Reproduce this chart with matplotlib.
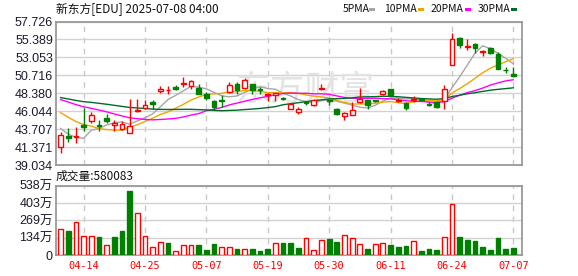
import matplotlib
matplotlib.use('Agg')
import matplotlib.pyplot as plt
from matplotlib.patches import Rectangle
import numpy as np
import pandas as pd

# ---------------- data ----------------
dates = ['04-09','04-10','04-11','04-14','04-15','04-16','04-17','04-21','04-22','04-23',
         '04-24','04-25','04-28','04-29','04-30','05-01','05-02','05-05','05-06','05-07',
         '05-08','05-09','05-12','05-13','05-14','05-15','05-16','05-19','05-20','05-21',
         '05-22','05-23','05-27','05-28','05-29','05-30','06-02','06-03','06-04','06-05',
         '06-06','06-09','06-10','06-11','06-12','06-13','06-16','06-17','06-18','06-20',
         '06-23','06-24','06-25','06-26','06-27','06-30','07-01','07-02','07-03','07-07']
tick_dates = ['04-14','04-25','05-07','05-19','05-30','06-11','06-24','07-07']

opens = [41.41,42.80,42.72,44.23,44.74,44.23,45.10,44.23,43.67,43.23,
         46.04,46.52,47.25,48.67,48.77,49.20,49.55,49.29,49.07,48.25,
         47.38,47.56,48.55,49.55,49.12,49.55,48.95,48.12,48.10,47.70,
         46.39,45.95,47.21,46.82,48.99,47.50,46.39,45.43,45.61,47.25,
         47.47,47.50,48.34,48.90,47.38,47.12,47.47,47.60,47.00,47.25,
         47.34,52.10,55.61,54.45,54.83,53.80,54.31,53.53,51.45,50.85]
highs = [43.36,43.80,43.93,46.43,45.95,44.88,45.74,44.88,44.74,47.69,
         47.69,47.47,47.56,49.29,49.29,49.42,50.50,50.07,49.55,48.55,
         47.47,48.12,49.85,49.85,50.33,49.64,49.20,48.40,48.40,47.90,
         47.10,46.60,47.40,47.60,49.64,47.69,46.43,45.90,47.25,49.12,
         47.50,47.56,48.86,48.99,47.82,47.25,47.99,47.69,47.25,47.34,
         49.42,56.20,55.70,55.48,54.87,54.05,54.35,53.74,51.79,51.79]
lows = [40.63,42.06,41.93,43.50,44.52,43.49,44.45,43.49,43.58,43.15,
        45.95,46.39,46.39,48.42,48.34,48.77,49.20,48.99,48.25,47.56,
        46.26,46.60,48.47,48.34,48.99,48.34,48.30,47.38,47.38,47.47,
        46.30,45.74,46.90,46.75,48.86,46.82,45.50,44.88,45.52,47.12,
        46.30,47.25,48.12,47.99,47.25,46.17,47.25,47.38,46.73,46.43,
        46.39,52.10,54.31,53.96,53.61,53.22,53.44,51.49,51.01,50.50]
closes = [42.93,42.58,42.85,43.93,45.52,44.10,44.74,44.45,44.36,44.10,
          46.17,46.82,47.02,48.90,48.86,48.90,49.77,49.98,48.34,47.82,
          46.60,47.43,49.42,48.86,50.16,48.86,48.80,48.30,48.36,47.60,
          47.04,46.39,47.12,47.47,49.07,47.40,45.65,45.87,46.17,47.69,
          46.91,47.40,48.64,48.12,47.56,46.47,47.69,47.50,46.90,46.60,
          48.99,55.48,54.61,54.55,54.26,53.93,53.57,51.59,51.35,50.63]
# closes before the window (needed for the moving averages at the left edge)
prior_closes = [48.0,48.5,48.9,48.2,47.8,48.3,48.7,48.6,48.1,48.3,
                48.9,49.5,49.8,49.2,48.8,49.4,49.9,49.6,48.9,48.57,
                48.6,48.3,47.9,47.6,47.1,46.28,45.0,44.58,40.21]
# volume in 万 shares
volumes = [200,187,254,145,145,140,75,140,187,498,
           324,145,60,99,93,29,75,75,75,39,
           86,60,60,47,47,47,31,47,91,93,
           95,54,130,36,114,122,101,153,130,83,
           47,83,91,75,62,70,106,31,47,39,
           138,394,140,117,109,62,39,132,47,58.0083]
last_volume = 580083

price_ticks = [39.034,41.371,43.707,46.044,48.380,50.716,53.053,55.389,57.726]
vol_ticks = [0,134.5,269,403.5,538]
vol_tick_labels = ['0','134万','269万','403万','538万']

ma_names = ['5PMA','10PMA','20PMA','30PMA']
ma_windows = [5,10,20,30]
ma_colors = ['#a6a6a6','#f2a500','#ff00ff','#006b2b']

title = '新东方[EDU] 2025-07-08 04:00'
vol_title = '成交量:' + str(last_volume)

# ---------------- figure ----------------
W, H = 578, 276
fig = plt.figure(figsize=(W/100, H/100), dpi=100)
L, R = 55.7, 522.3
ax = fig.add_axes([L/W, 1-165/H, (R-L)/W, (165-21.5)/H])
axv = fig.add_axes([L/W, 1-255/H, (R-L)/W, (255-185.7)/H])

RED = '#ff0000'
GRN = '#008000'
n = len(closes)
x = np.arange(n)
tick_idx = [dates.index(d) for d in tick_dates]

all_closes = pd.Series(prior_closes + closes)
for name, w, col in zip(ma_names, ma_windows, ma_colors):
    ma = all_closes.rolling(w).mean().values[len(prior_closes):]
    ax.plot(x, ma, color=col, lw=1.0, zorder=3)

o = np.array(opens); c = np.array(closes); h = np.array(highs); l = np.array(lows)
up = c >= o
cols = np.where(up, RED, GRN)
ax.vlines(x, l, h, colors=cols, lw=1.0, zorder=4)
bw = 0.62
body_bottom = np.minimum(o, c)
body_h = np.maximum(np.abs(c - o), 0.02)
ax.bar(x[up], body_h[up], bw, bottom=body_bottom[up], facecolor='white',
       edgecolor=RED, lw=1.0, zorder=5)
ax.bar(x[~up], body_h[~up], bw, bottom=body_bottom[~up], facecolor=GRN,
       edgecolor=GRN, lw=1.0, zorder=5)

# volume
prev = np.array([prior_closes[-1]] + closes[:-1])
vup = c >= prev
v = np.array(volumes)
axv.bar(x[vup], v[vup], bw, facecolor='white', edgecolor=RED, lw=1.0, zorder=3)
axv.bar(x[~vup], v[~vup], bw, facecolor=GRN, edgecolor=GRN, lw=1.0, zorder=3)

xlim = (-0.63, n + 0.17)
for a in (ax, axv):
    a.set_xlim(*xlim)
    a.set_xticks(tick_idx)
    a.set_axisbelow(True)
    a.xaxis.grid(True, color='#c8c8c8', lw=1.0, ls=(0, (4, 4)))
    a.yaxis.grid(True, color='#d2d2d2', lw=1.0)
    for s in a.spines.values():
        s.set_color('#9a9a9a')
        s.set_linewidth(1.3)
    a.tick_params(length=0)

ax.set_ylim(price_ticks[0], price_ticks[-1])
ax.set_yticks(price_ticks)
ax.set_yticklabels(['%.3f' % t for t in price_ticks], fontsize=9,
                   family=['Liberation Sans'], color='#1a1a2e')
ax.tick_params(axis='y', pad=2)
ax.set_xticklabels([])

axv.set_ylim(0, vol_ticks[-1])
axv.set_yticks(vol_ticks)
axv.set_yticklabels(vol_tick_labels, fontsize=9,
                    family=['Liberation Sans', 'Noto Sans CJK SC'], color='#1a1a2e')
axv.tick_params(axis='y', pad=2)
axv.set_xticklabels(tick_dates, fontsize=7.4, family='DejaVu Sans Mono', color=RED)
axv.tick_params(axis='x', pad=4)

# watermark
ax.text(0.534, 0.52, '东方财富', transform=ax.transAxes, ha='center', va='center',
        fontsize=25, color='#e3e3e3', family=['Noto Sans CJK SC'], zorder=1)

# texts
cjk = ['Noto Sans CJK SC', 'DejaVu Sans']
fig.text(56/W, 1-10/H, title, ha='left', va='center', fontsize=8.5, family=cjk, color='#111111')
fig.text(56/W, 1-176.7/H, vol_title, ha='left', va='center', fontsize=8.5, family=cjk, color='#111111')

leg_text_x = [342.5, 384, 431, 478]
leg_sq_x = [369, 418, 465, 511]
for name, col, tx, sx in zip(ma_names, ma_colors, leg_text_x, leg_sq_x):
    fig.text(tx/W, 1-9.5/H, name, ha='left', va='center', fontsize=7.5, family=cjk, color='#111111')
    fig.patches.append(Rectangle((sx/W, 1-11/H), 5.5/W, 3/H, facecolor=col,
                                 edgecolor='none', transform=fig.transFigure))

fig.savefig('out.png', dpi=100)
